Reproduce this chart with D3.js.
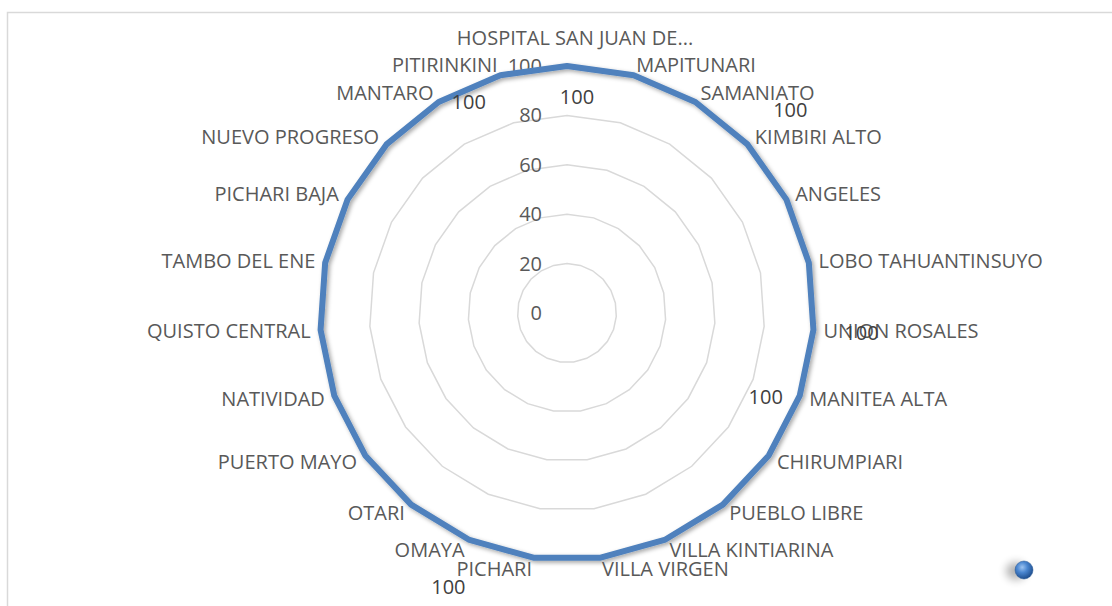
<html>
<head>
    <meta charset="utf-8">
    <title>Radar</title>
    <script src="https://d3js.org/d3.v7.min.js"></script>
    <style>
        body { margin: 0; background: #fff; }
        text { font-family: "Open Sans", "Liberation Sans", sans-serif; }
    </style>
</head>
<body>
<svg id="chart"></svg>
<script>
    const categories = ["HOSPITAL SAN JUAN DE...", "MAPITUNARI", "SAMANIATO", "KIMBIRI ALTO", "ANGELES",
        "LOBO TAHUANTINSUYO", "UNION ROSALES", "MANITEA ALTA", "CHIRUMPIARI", "PUEBLO LIBRE",
        "VILLA KINTIARINA", "VILLA VIRGEN", "PICHARI", "OMAYA", "OTARI", "PUERTO MAYO", "NATIVIDAD",
        "QUISTO CENTRAL", "TAMBO DEL ENE", "PICHARI BAJA", "NUEVO PROGRESO", "MANTARO", "PITIRINKINI"];
    const values = [100, 100, 100, 100, 100, 100, 100, 100, 100, 100, 100, 100,
        100, 100, 100, 100, 100, 100, 100, 100, 100, 100, 100];
    const ticks = [0, 20, 40, 60, 80, 100];
    // categories whose data label is shown
    const labelled = [0, 2, 6, 7, 12, 21];

    const width = 1112, height = 606;
    const cx = 567, cy = 313, R = 247;
    const fs = 20;
    // where Excel dropped each data label, relative to its point
    const labelShift = {0: [10, 31], 2: [95, 8], 6: [48, 3], 7: [-34, 1], 12: [-85, 29], 21: [30, 0]};

    const svg = d3.select("#chart").attr("width", width).attr("height", height);

    const defs = svg.append("defs");
    const sh = defs.append("filter").attr("id", "shadow")
        .attr("x", "-10%").attr("y", "-10%").attr("width", "120%").attr("height", "120%");
    sh.append("feDropShadow").attr("dx", 2).attr("dy", 2).attr("stdDeviation", 2)
        .attr("flood-color", "#000").attr("flood-opacity", 0.35);
    const grad = defs.append("radialGradient").attr("id", "ball")
        .attr("cx", "40%").attr("cy", "35%").attr("r", "65%");
    grad.append("stop").attr("offset", "0%").attr("stop-color", "#9cc3f0");
    grad.append("stop").attr("offset", "45%").attr("stop-color", "#4a86d0");
    grad.append("stop").attr("offset", "100%").attr("stop-color", "#1f4f8f");
    const blur = defs.append("filter").attr("id", "blur").attr("x", "-50%").attr("y", "-50%")
        .attr("width", "200%").attr("height", "200%");
    blur.append("feGaussianBlur").attr("stdDeviation", 4);

    svg.append("rect")
        .attr("x", 7.5).attr("y", 12.5).attr("width", width).attr("height", height)
        .attr("fill", "none").attr("stroke", "#d9d9d9").attr("stroke-width", 1.5);

    const angle = d3.scaleLinear().domain([0, categories.length]).range([0, 2 * Math.PI]);
    const r = d3.scaleLinear().domain([0, 100]).range([0, R]);

    const g = svg.append("g").attr("transform", `translate(${cx},${cy})`);

    const pt = (i, v) => [Math.sin(angle(i)) * r(v), -Math.cos(angle(i)) * r(v)];
    const ring = d3.line().curve(d3.curveLinearClosed);

    g.selectAll(".grid")
        .data(ticks.slice(1))
        .join("path")
        .attr("class", "grid")
        .attr("d", t => ring(categories.map((c, i) => pt(i, t))))
        .attr("fill", "none").attr("stroke", "#d9d9d9").attr("stroke-width", 1.5);

    g.selectAll(".tick")
        .data(ticks)
        .join("text")
        .attr("class", "tick")
        .attr("x", -25).attr("y", t => -r(t))
        .attr("dy", "0.35em")
        .attr("text-anchor", "end")
        .attr("font-size", fs).attr("fill", "#595959")
        .text(t => t);

    g.append("path")
        .attr("d", ring(values.map((v, i) => pt(i, v))))
        .attr("fill", "none").attr("stroke", "#4f81bd").attr("stroke-width", 6)
        .attr("stroke-linejoin", "round")
        .attr("filter", "url(#shadow)");

    g.selectAll(".cat")
        .data(categories)
        .join("text")
        .attr("class", "cat")
        .each(function (c, i) {
            const s = Math.sin(angle(i)), co = Math.cos(angle(i));
            const [x, y] = pt(i, 100);
            const t = d3.select(this);
            if (Math.abs(s) < 0.05) {
                t.attr("x", x + 8).attr("y", y - 28).attr("text-anchor", "middle");
            } else {
                t.attr("x", x + 10 * s).attr("y", y - 11 * co)
                    .attr("text-anchor", s > 0 ? "start" : "end");
            }
        })
        .attr("dy", "0.35em")
        .attr("font-size", fs).attr("fill", "#595959")
        .text(c => c);

    g.selectAll(".val")
        .data(labelled)
        .join("text")
        .attr("class", "val")
        .attr("x", i => pt(i, values[i])[0] + labelShift[i][0])
        .attr("y", i => pt(i, values[i])[1] + labelShift[i][1])
        .attr("dy", "0.35em")
        .attr("text-anchor", "middle")
        .attr("font-size", fs).attr("fill", "#404040")
        .text(i => values[i]);

    // legend marker
    svg.append("ellipse").attr("cx", 1016).attr("cy", 571).attr("rx", 10).attr("ry", 9)
        .attr("fill", "#000").attr("opacity", 0.3).attr("filter", "url(#blur)");
    svg.append("circle").attr("cx", 1024).attr("cy", 570).attr("r", 9)
        .attr("fill", "url(#ball)").attr("stroke", "#2a5a96").attr("stroke-width", 0.5);
</script>
</body>
</html>
